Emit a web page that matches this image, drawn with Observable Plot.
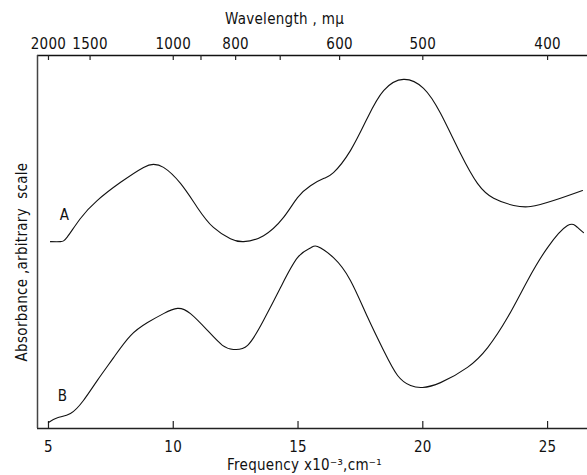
<!DOCTYPE html>
<html><head><meta charset="utf-8">
<script src="https://cdn.jsdelivr.net/npm/d3@7"></script>
<script src="https://cdn.jsdelivr.net/npm/@observablehq/plot@0.6"></script>
<style>body{margin:0;background:#fff}</style>
</head><body><div id="chart"></div>
<script>
const series = ["A", "B"];
const freqA = [5.08, 5.48, 5.75, 6.28, 6.95, 7.89, 8.81, 9.21, 9.61, 10.29, 10.97, 11.61, 12.29, 12.82, 13.62, 14.42, 14.98, 15.50, 16.02, 16.42, 17.10, 17.79, 18.43, 19.23, 20.03, 20.71, 21.51, 22.19, 22.84, 23.64, 24.32, 25.24, 26.40];
const absA  = [50.1, 50.1, 51.3, 56.3, 61.1, 66.0, 70.0, 70.8, 70.0, 65.7, 59.2, 53.9, 50.9, 50.1, 51.7, 56.6, 61.9, 65.1, 67.0, 68.6, 74.5, 83.4, 90.6, 93.6, 91.2, 84.5, 73.7, 65.7, 61.7, 59.8, 59.5, 61.1, 63.8];
const freqB = [5.00, 5.36, 5.88, 6.40, 6.96, 7.61, 8.29, 8.97, 9.61, 10.17, 10.69, 11.37, 11.97, 12.41, 12.98, 13.62, 14.30, 14.98, 15.50, 15.78, 16.42, 17.10, 17.79, 18.43, 18.99, 19.51, 19.99, 20.71, 21.79, 22.60, 23.40, 24.20, 25.00, 25.80, 26.20, 26.44];
const absB  = [1.6, 2.9, 4.0, 7.5, 12.9, 19.0, 24.9, 28.4, 30.8, 32.2, 30.8, 26.3, 22.3, 21.2, 22.3, 29.0, 37.8, 45.8, 48.4, 48.8, 45.8, 39.7, 29.8, 20.9, 14.2, 11.5, 11.0, 12.3, 16.4, 21.7, 29.8, 39.7, 48.5, 54.4, 53.9, 52.5];
const freqTicks = [5, 10, 15, 20, 25];
const wavelengthTicks = [2000, 1500, 1000, 900, 800, 700, 600, 500, 400];
const wavelengthLabels = [2000, 1500, 1000, 800, 600, 500, 400];
const xDomain = [4.56, 26.6];
const yDomain = [0, 100];
const titleTop = "Wavelength , mμ";
const titleBottom = "Frequency x10⁻³,cm⁻¹";
const titleLeft = "Absorbance ,arbitrary  scale";

const rows = [
  ...freqA.map((f, i) => ({series: series[0], freq: f, abs: absA[i]})),
  ...freqB.map((f, i) => ({series: series[1], freq: f, abs: absB[i]}))
];
const toFreq = w => 1e4 / w;

const W = 587, H = 475, mTop = 55, mBottom = 47;
const frameH = H - mTop - mBottom;
const font = "'DejaVu Sans Condensed', 'DejaVu Sans', sans-serif";
const plot = Plot.plot({
  width: W, height: H,
  marginLeft: 37, marginRight: 0, marginTop: mTop, marginBottom: mBottom,
  style: {fontFamily: font, fontSize: "15px", background: "#fff", color: "#111", letterSpacing: "0.3px"},
  x: {domain: xDomain},
  y: {domain: yDomain, axis: null},
  marks: [
    Plot.ruleY([yDomain[1]], {stroke: "#111", strokeWidth: 1.6}),
    Plot.ruleY([yDomain[0]], {stroke: "#222", strokeWidth: 1.3}),
    Plot.ruleX([xDomain[0]], {stroke: "#444", strokeWidth: 1.5}),
    Plot.tickX(freqTicks, {x: d => d, insetTop: frameH - 7, stroke: "#222", strokeWidth: 1.2}),
    Plot.tickX(wavelengthTicks.map(toFreq), {x: d => d, insetBottom: frameH - 5, stroke: "#222", strokeWidth: 1.2}),
    Plot.axisX(freqTicks, {anchor: "bottom", tickSize: 0, tickPadding: 13, label: null}),
    Plot.axisX(wavelengthLabels.map(toFreq), {anchor: "top", tickSize: 0, tickPadding: 7, tickFormat: d => String(Math.round(1e4 / d)), label: null}),
    Plot.line(rows, {x: "freq", y: "abs", z: "series", curve: "natural", stroke: "#111", strokeWidth: 1.1}),
    Plot.text(rows, Plot.selectFirst({x: "freq", y: "abs", z: "series", text: "series", dx: 14, dy: -26})),
    Plot.text([titleTop], {frameAnchor: "top", lineAnchor: "bottom", dx: -28, dy: -32}),
    Plot.text([titleBottom], {frameAnchor: "bottom", lineAnchor: "bottom", dx: -8, dy: 41}),
    Plot.text([titleLeft], {frameAnchor: "left", textAnchor: "middle", rotate: -90, dx: -15, dy: 20})
  ]
});
document.getElementById("chart").appendChild(plot);
</script>
</body></html>
